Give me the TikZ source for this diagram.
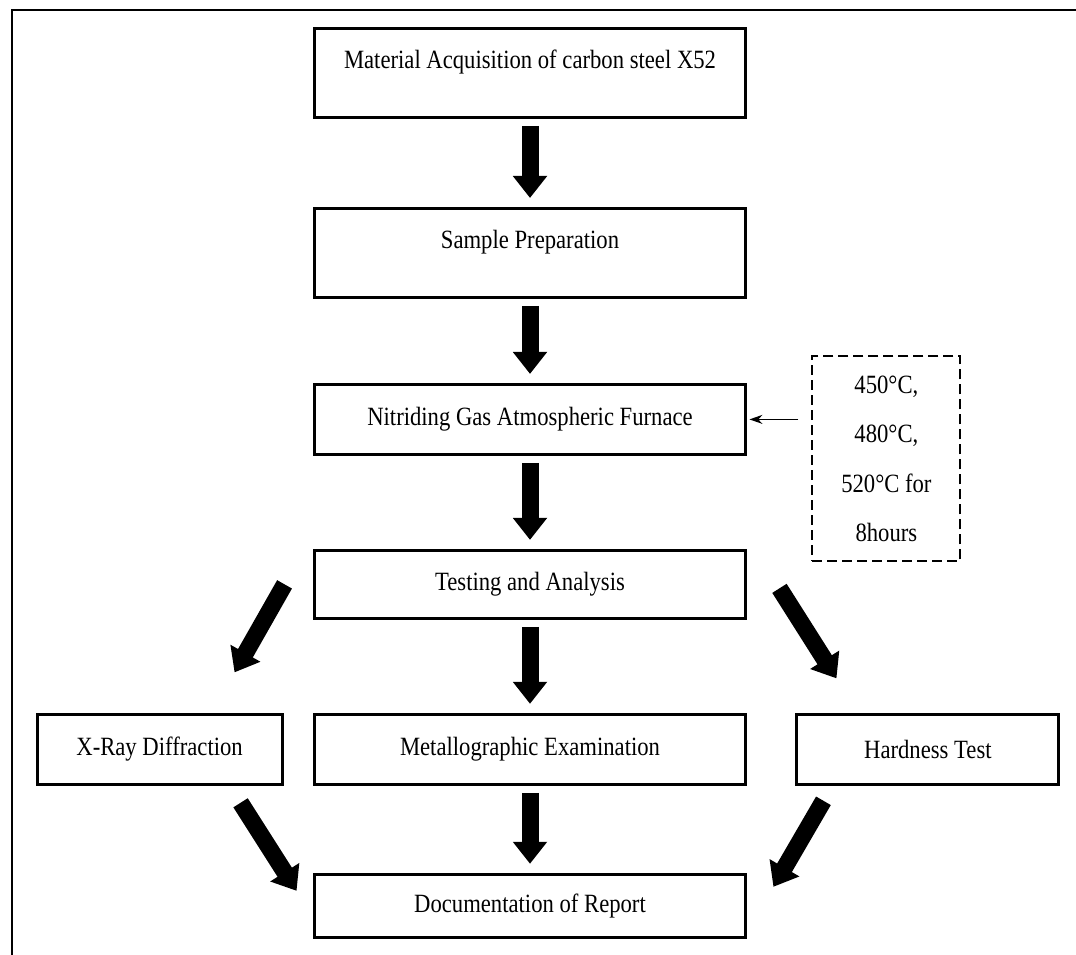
\documentclass[tikz,border=0pt]{standalone}
\usepackage{fontspec}
\setmainfont[FakeStretch=0.86]{Liberation Serif}
\usetikzlibrary{arrows.meta, positioning, calc}
\tikzset{
  block/.style={
    rectangle, draw=black, line width=1.7pt,
    minimum height=1.4cm, align=center, inner sep=2pt,
    font=\fontsize{15}{18}\selectfont,
  },
  stepbl/.style={block, minimum width=8.64cm},
  tallbl/.style={stepbl, minimum height=1.78cm, text depth=0.55cm},
  sidebl/.style={block},
  parambl/.style={
    rectangle, draw=black, line width=1.1pt,
    dash pattern=on 0.2cm off 0.1cm,
    minimum width=2.96cm, minimum height=4.1cm, align=center,
    font=\fontsize{15}{28}\selectfont,
  },
  barr/.style={-{Triangle[width=0.66cm, length=0.44cm]}, line width=0.34cm},
  tarr/.style={-{Stealth[length=2.6mm, width=1.8mm]}, line width=0.9pt},
  frm/.style={line width=1.4pt},
}

\begin{document}
\begin{tikzpicture}[x=0.02cm, y=-0.02cm]
\useasboundingbox (0,0) rectangle (1076,955);

% ── outer frame (top and left edge only) ───────────────────────────────
\draw[frm] (1076,10) -| (12,955);

% ── main column ────────────────────────────────────────────────────────
\node[tallbl] (acq) at (530,73) {Material Acquisition of carbon steel X52};
\node[tallbl, below=1.76cm of acq] (prep) {Sample Preparation};
\node[stepbl, below=1.68cm of prep] (furn) {Nitriding Gas Atmospheric Furnace};
\node[stepbl, below=1.86cm of furn, minimum height=1.36cm] (test) {Testing and Analysis};
\node[stepbl, below=1.86cm of test] (metal) {Metallographic Examination};
\node[stepbl, below=1.74cm of metal, minimum height=1.26cm] (doc) {Documentation of Report};

% ── side tests, level with metal ───────────────────────────────────────
\node[sidebl, minimum width=4.9cm,  left=0.58cm of metal]  (xrd)  {X-Ray Diffraction};
\node[sidebl, minimum width=5.24cm, right=0.96cm of metal] (hard) {Hardness Test};

% ── furnace settings ───────────────────────────────────────────────────
\node[parambl, right=1.28cm of furn, yshift=-0.79cm] (temps)
     {450°C,\\480°C,\\520°C for\\8hours};
\draw[tarr, shorten <=0.26cm, shorten >=0.04cm] (temps.west |- furn.east) -- (furn.east);

% ── arrows down the column ─────────────────────────────────────────────
\draw[barr, shorten <=0.14cm, shorten >=0.18cm] (acq)   -- (prep);
\draw[barr, shorten <=0.14cm, shorten >=0.18cm] (prep)  -- (furn);
\draw[barr, shorten <=0.14cm, shorten >=0.18cm] (furn)  -- (test);
\draw[barr, shorten <=0.14cm, shorten >=0.18cm] (test)  -- (metal);
\draw[barr, shorten <=0.14cm, shorten >=0.18cm] (metal) -- (doc);

% ── slanted arrows out to the side tests and back ──────────────────────
\coordinate (tl) at ($(test.west)+(-28,0)$);
\coordinate (tr) at ($(test.east)+(32,4)$);
\coordinate (bl) at ($(xrd.south east)+(-43,17)$);
\coordinate (br) at ($(hard.south west)+(28,15)$);
\draw[barr] (tl) -- ++(-50,88);
\draw[barr] (tr) -- ++(57,90);
\draw[barr] (bl) -- ++(56,88);
\draw[barr] (br) -- ++(-50,86);

\end{tikzpicture}
\end{document}
